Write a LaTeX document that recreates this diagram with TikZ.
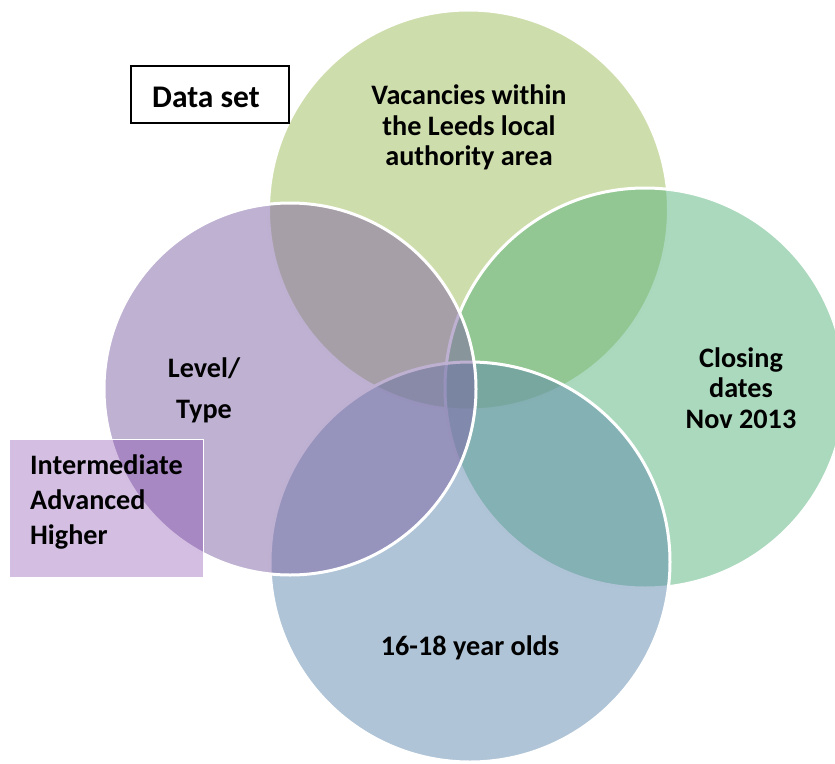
\documentclass[tikz,border=0pt]{standalone}
\usepackage{fontspec}
\setmainfont{Carlito}
\definecolor{topbase}{RGB}{157,187,89}
\definecolor{rightbase}{RGB}{87,179,123}
\definecolor{bluebase}{RGB}{95,137,173}
\definecolor{purplebase}{RGB}{127,99,165}
\definecolor{boxbase}{RGB}{112,42,162}
\tikzset{
  vcirc/.style={circle, inner sep=0pt, draw=white, line width=3pt, fill opacity=0.5, draw opacity=1},
  lbl/.style={font=\bfseries\fontsize{28.2}{30.5}\selectfont, align=center, inner sep=0pt, text=black},
}
\begin{document}
\begin{tikzpicture}[x=1pt,y=-1pt]
\useasboundingbox (0,0) rectangle (835,763);
\clip (0,0) rectangle (835,763);
\node[vcirc, fill=topbase, minimum size=400pt] (ctop) at (468.5,210) {};
\node[vcirc, fill=rightbase, minimum size=400pt] (cright) at (645,388) {};
\node[vcirc, fill=bluebase, minimum size=400pt] (cbottom) at (470,562) {};
\node[vcirc, fill=purplebase, minimum size=372pt] (cleft) at (290,389) {};
\node[lbl] (ttop) at (469,127.5) {Vacancies within\\the Leeds local\\authority area};
\node[lbl] (tright) at (741,388) {Closing\\dates\\Nov 2013};
\node[lbl] (tbottom) at (470,648) {16-18 year olds};
\node[lbl, font=\bfseries\fontsize{28.2}{41}\selectfont] (tleft) at (204,390.5) {Level/\\Type};
\node[draw=black, line width=1.8pt, minimum width=158pt, minimum height=57pt, inner sep=0pt, fill=white] (dsbox) at (210,94.5) {};
\node[lbl, font=\bfseries\fontsize{31.5}{34}\selectfont] (dstext) at (206,97) {Data set};
\node[draw=white, line width=1pt, fill=boxbase, fill opacity=0.3, draw opacity=1, minimum width=194pt, minimum height=138pt, inner sep=0pt] (lvlbox) at (106,508) {};
\node[lbl, align=left, anchor=west, font=\bfseries\fontsize{28.2}{35}\selectfont] (lvltext) at (30,502) {Intermediate\\Advanced\\Higher};
\end{tikzpicture}
\end{document}
